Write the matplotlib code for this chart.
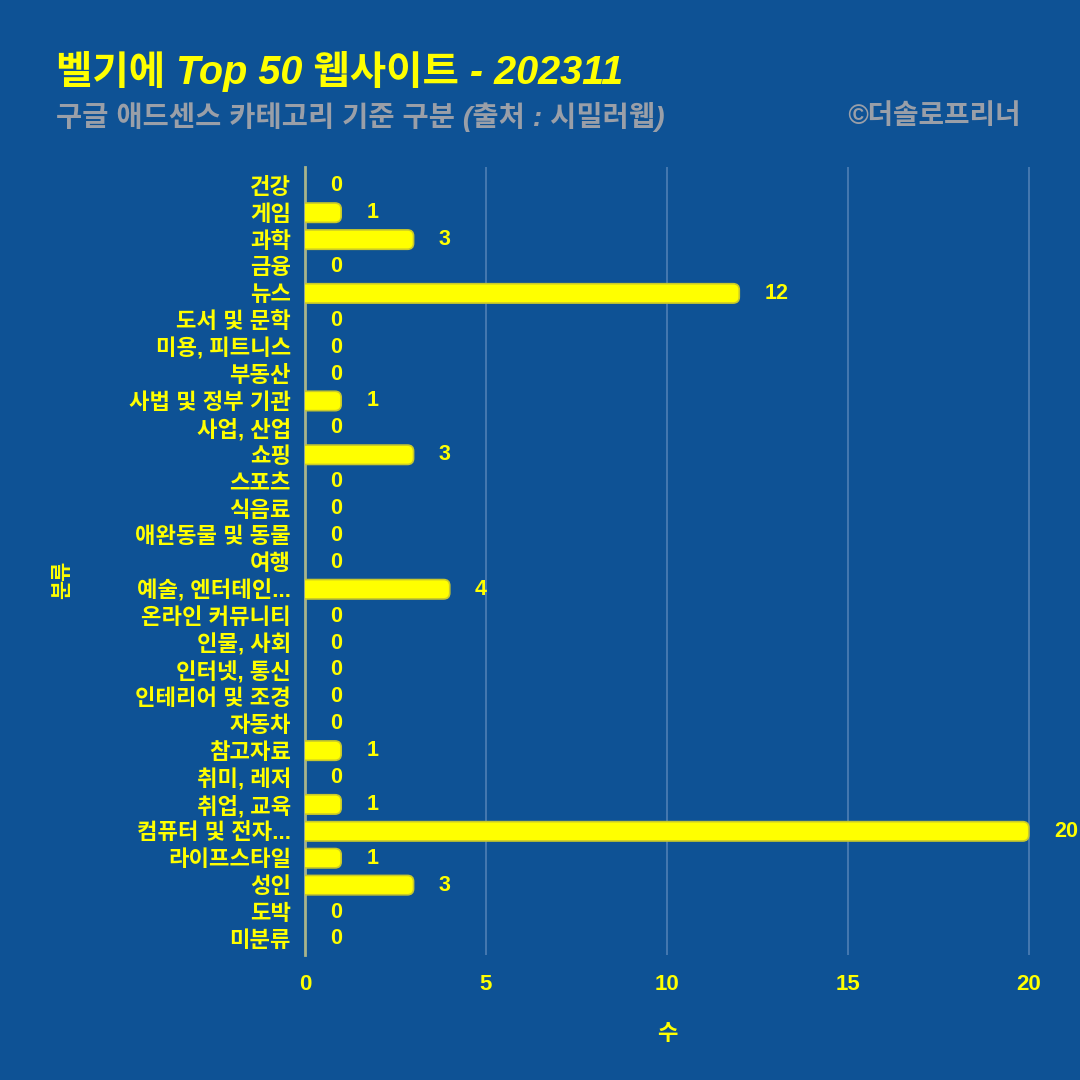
import matplotlib
matplotlib.use("Agg")
import matplotlib.pyplot as plt
from matplotlib.patches import FancyBboxPatch

plt.rcParams["font.family"] = ["Liberation Sans", "Noto Sans CJK KR", "DejaVu Sans"]

BG = "#0E5295"
YELLOW = "#FFFF00"
GRAY = "#9A9FA8"

categories = [
    "건강", "게임", "과학", "금융", "뉴스", "도서 및 문학", "미용, 피트니스",
    "부동산", "사법 및 정부 기관", "사업, 산업", "쇼핑", "스포츠", "식음료",
    "애완동물 및 동물", "여행", "예술, 엔터테인...", "온라인 커뮤니티",
    "인물, 사회", "인터넷, 통신", "인테리어 및 조경", "자동차", "참고자료",
    "취미, 레저", "취업, 교육", "컴퓨터 및 전자...", "라이프스타일", "성인",
    "도박", "미분류",
]
counts = [0, 1, 3, 0, 12, 0, 0, 0, 1, 0, 3, 0, 0, 0, 0, 4, 0, 0, 0, 0, 0,
          1, 0, 1, 20, 1, 3, 0, 0]
x_ticks = [0, 5, 10, 15, 20]

title = "벨기에 Top 50 웹사이트 - 202311"
subtitle = "구글 애드센스 카테고리 기준 구분 (출처 : 시밀러웹)"
credit = "©더솔로프리너"

fig = plt.figure(figsize=(10.8, 10.8), dpi=100, facecolor=BG)
ax = fig.add_axes([0.2824, 0.1157, 0.7037, 0.7297])
ax.set_facecolor(BG)

pos = list(range(len(categories)))
bars = ax.barh(pos, counts, height=0.72)

# swap plain rectangles for ones with rounded ends (left end hidden behind axis)
r = 0.17
for b in bars:
    x, y, w, h = b.get_x(), b.get_y(), b.get_width(), b.get_height()
    b.remove()
    if w <= 0:
        continue
    ax.add_patch(FancyBboxPatch((x - 2 * r, y), w + 2 * r, h,
                                boxstyle=f"round,pad=0,rounding_size={r}",
                                mutation_aspect=1.33,
                                facecolor=YELLOW, edgecolor="#C9C92A",
                                linewidth=1.2, zorder=3))

for p, v in zip(pos, counts):
    ax.annotate(str(v), (v, p), xytext=(18, 0), textcoords="offset points",
                ha="left", va="center", color=YELLOW, fontsize=15.5,
                fontweight="bold", annotation_clip=False, clip_on=False)

ax.set_xlim(0, 21)
ax.set_ylim(len(categories) - 0.4, -0.7)
ax.set_xticks(x_ticks)
ax.set_yticks(pos)
ax.set_yticklabels(categories)

ax.grid(axis="x", color="#4E7FB5", linewidth=1.2, zorder=0)
ax.tick_params(axis="both", length=0, colors=YELLOW)
ax.tick_params(axis="y", pad=10, labelsize=16)
ax.tick_params(axis="x", pad=14, labelsize=16)
for lbl in ax.get_xticklabels() + ax.get_yticklabels():
    lbl.set_fontweight("bold")

for s in ["top", "right", "bottom"]:
    ax.spines[s].set_visible(False)
ax.spines["left"].set_color("#A8B48C")
ax.spines["left"].set_linewidth(2)

fig.text(0.6176, 0.042, "수", color=YELLOW, fontsize=16, fontweight="bold",
         ha="center", va="center")
fig.text(0.058, 0.463, "분류", rotation=90, color=YELLOW, fontsize=15,
         fontweight="bold", ha="center", va="center")

fig.text(0.052, 0.934, title, color=YELLOW, fontsize=28.5, fontweight="bold",
         fontstyle="italic", ha="left", va="center")
fig.text(0.052, 0.892, subtitle, color=GRAY, fontsize=20.5, fontweight="bold",
         fontstyle="italic", ha="left", va="center")
fig.text(0.945, 0.892, credit, color=GRAY, fontsize=20, fontweight="bold",
         fontstyle="italic", ha="right", va="center")

fig.savefig("out.png", dpi=100, facecolor=BG)
